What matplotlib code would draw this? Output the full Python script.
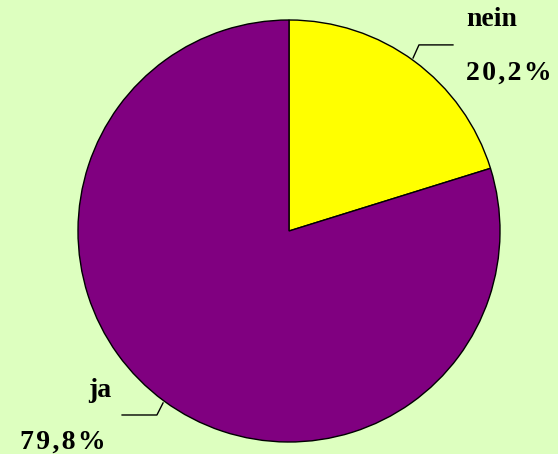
import matplotlib.pyplot as plt

labels = ['nein', 'ja']
values = [20.2, 79.8]
colors = ['#FFFF00', '#800080']
pct_labels = ['20,2%', '79,8%']

bg = '#DDFFBF'
fig = plt.figure(figsize=(5.58, 4.54), dpi=100, facecolor=bg)
# axes box matches the pie's bounding square in pixels
ax = fig.add_axes([78 / 558, 12 / 454, 422 / 558, 422 / 454])
ax.set_facecolor(bg)

ax.pie(values, colors=colors, startangle=90, counterclock=False, radius=1,
       wedgeprops=dict(edgecolor='black', linewidth=1.0))
ax.set_xlim(-1, 1)
ax.set_ylim(-1, 1)
ax.set_aspect('equal')
ax.axis('off')


def spaced(s):
    return '\u200a'.join(s)


font = dict(family='Liberation Serif', fontweight='bold', fontsize=20, color='black')

# leader lines
ax.plot([0.588, 0.616, 0.777], [0.820, 0.882, 0.882], color='black', lw=1, clip_on=False)
ax.plot([-0.597, -0.626, -0.791], [-0.815, -0.872, -0.872], color='black', lw=1, clip_on=False)

ax.text(0.839, 1.00, labels[0], ha='left', va='center', clip_on=False, **font)
ax.text(0.839, 0.749, spaced(pct_labels[0]), ha='left', va='center', clip_on=False, **font)
ax.text(-0.953, -0.754, labels[1], ha='left', va='center', clip_on=False, **font)
ax.text(-1.275, -1.0, spaced(pct_labels[1]), ha='left', va='center', clip_on=False, **font)

fig.savefig('out.png', dpi=100, facecolor=bg)
